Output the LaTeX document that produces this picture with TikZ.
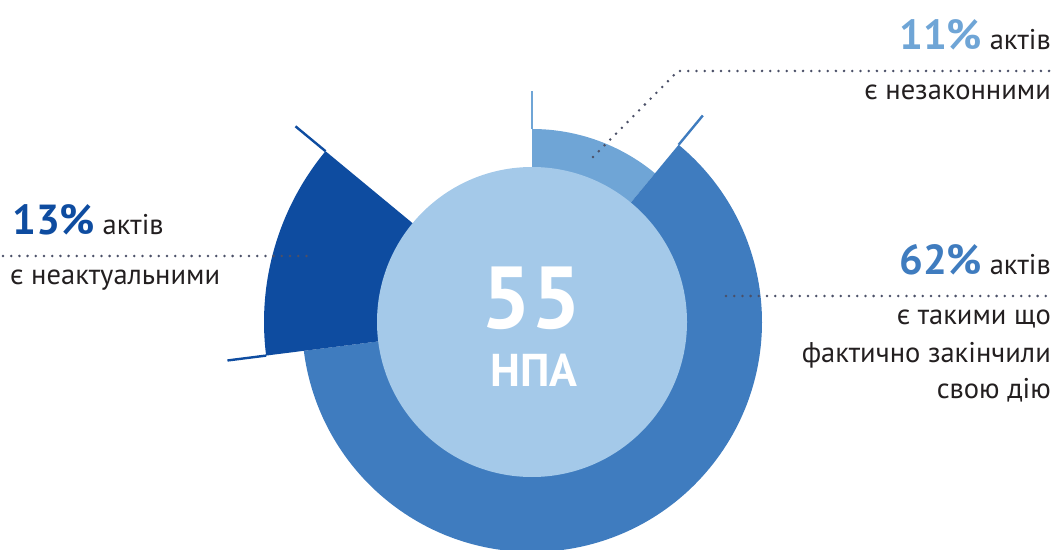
\documentclass[tikz,border=0pt]{standalone}
\usepackage{fontspec}
\setmainfont{PT Sans}
\definecolor{segA}{HTML}{6FA5D6}
\definecolor{segB}{HTML}{3F7CBF}
\definecolor{segC}{HTML}{0E4CA0}
\definecolor{core}{HTML}{A4C9E9}
\definecolor{dotgray}{HTML}{4B5068}
\definecolor{txtgray}{HTML}{231F20}
\begin{document}
\begin{tikzpicture}[x=1pt,y=1pt,
  ray/.style={line width=2.4pt},
  leader/.style={draw=dotgray, line width=2.8pt, line cap=round, dash pattern=on 0pt off 8.2pt},
  lbl/.style={inner sep=0pt, text=txtgray, font=\fontsize{28.5}{32}\selectfont}]
\useasboundingbox (0,0) rectangle (1056,549);
\coordinate (ctr) at (532,227);
\fill[segA] (ctr) -- ++(90:193) arc[start angle=90, end angle=50.4, radius=193] -- cycle;
\fill[segB] (ctr) -- ++(50.4:230) arc[start angle=50.4, end angle=-172.8, radius=230] -- cycle;
\fill[segC] (ctr) -- ++(187.2:268) arc[start angle=187.2, end angle=140.4, radius=268] -- cycle;
\draw[ray, segA] ([shift={(90:193)}]ctr) -- ([shift={(90:231)}]ctr);
\draw[ray, segB] ([shift={(50.4:230)}]ctr) -- ([shift={(50.4:268)}]ctr);
\draw[ray, segC] ([shift={(187.2:268)}]ctr) -- ([shift={(187.2:307)}]ctr);
\draw[ray, segC] ([shift={(140.4:268)}]ctr) -- ([shift={(140.4:307)}]ctr);
\fill[core] (ctr) circle[radius=155];
\node[text=white, font=\fontsize{88}{88}\selectfont\bfseries] (num) at (531,251) {55};
\node[text=white, font=\fontsize{46}{46}\selectfont\bfseries] (unit) at (534,179) {НПА};

% 11%
\node[lbl, anchor=base east] (t11) at (1051,499) {{\color{segA}\fontsize{42}{42}\selectfont\bfseries 11\%} актів};
\node[lbl, anchor=base east] (s11) at (1051,449) {є незаконними};
\coordinate (d11a) at (593,392);
\coordinate (d11b) at (678,478);
\coordinate (d11c) at (1053,478);
\draw[leader] (d11a) -- (d11b) -- (d11c);

% 62%
\node[lbl, anchor=base east] (t62) at (1051,274) {{\color{segB}\fontsize{42}{42}\selectfont\bfseries 62\%} актів};
\node[lbl, anchor=base east] (s62a) at (1051,224) {є такими що};
\node[lbl, anchor=base east] (s62b) at (1051,187) {фактично закінчили};
\node[lbl, anchor=base east] (s62c) at (1051,151) {свою дію};
\coordinate (d62a) at (726,253);
\coordinate (d62b) at (1053,253);
\draw[leader] (d62a) -- (d62b);

% 13%
\node[lbl, anchor=base west] (t13) at (12,314) {{\color{segC}\fontsize{42}{42}\selectfont\bfseries 13\%} актів};
\node[lbl, anchor=base west] (s13) at (10,264) {є неактуальними};
\coordinate (d13a) at (3,293);
\coordinate (d13b) at (311,293);
\draw[leader] (d13a) -- (d13b);
\end{tikzpicture}
\end{document}
